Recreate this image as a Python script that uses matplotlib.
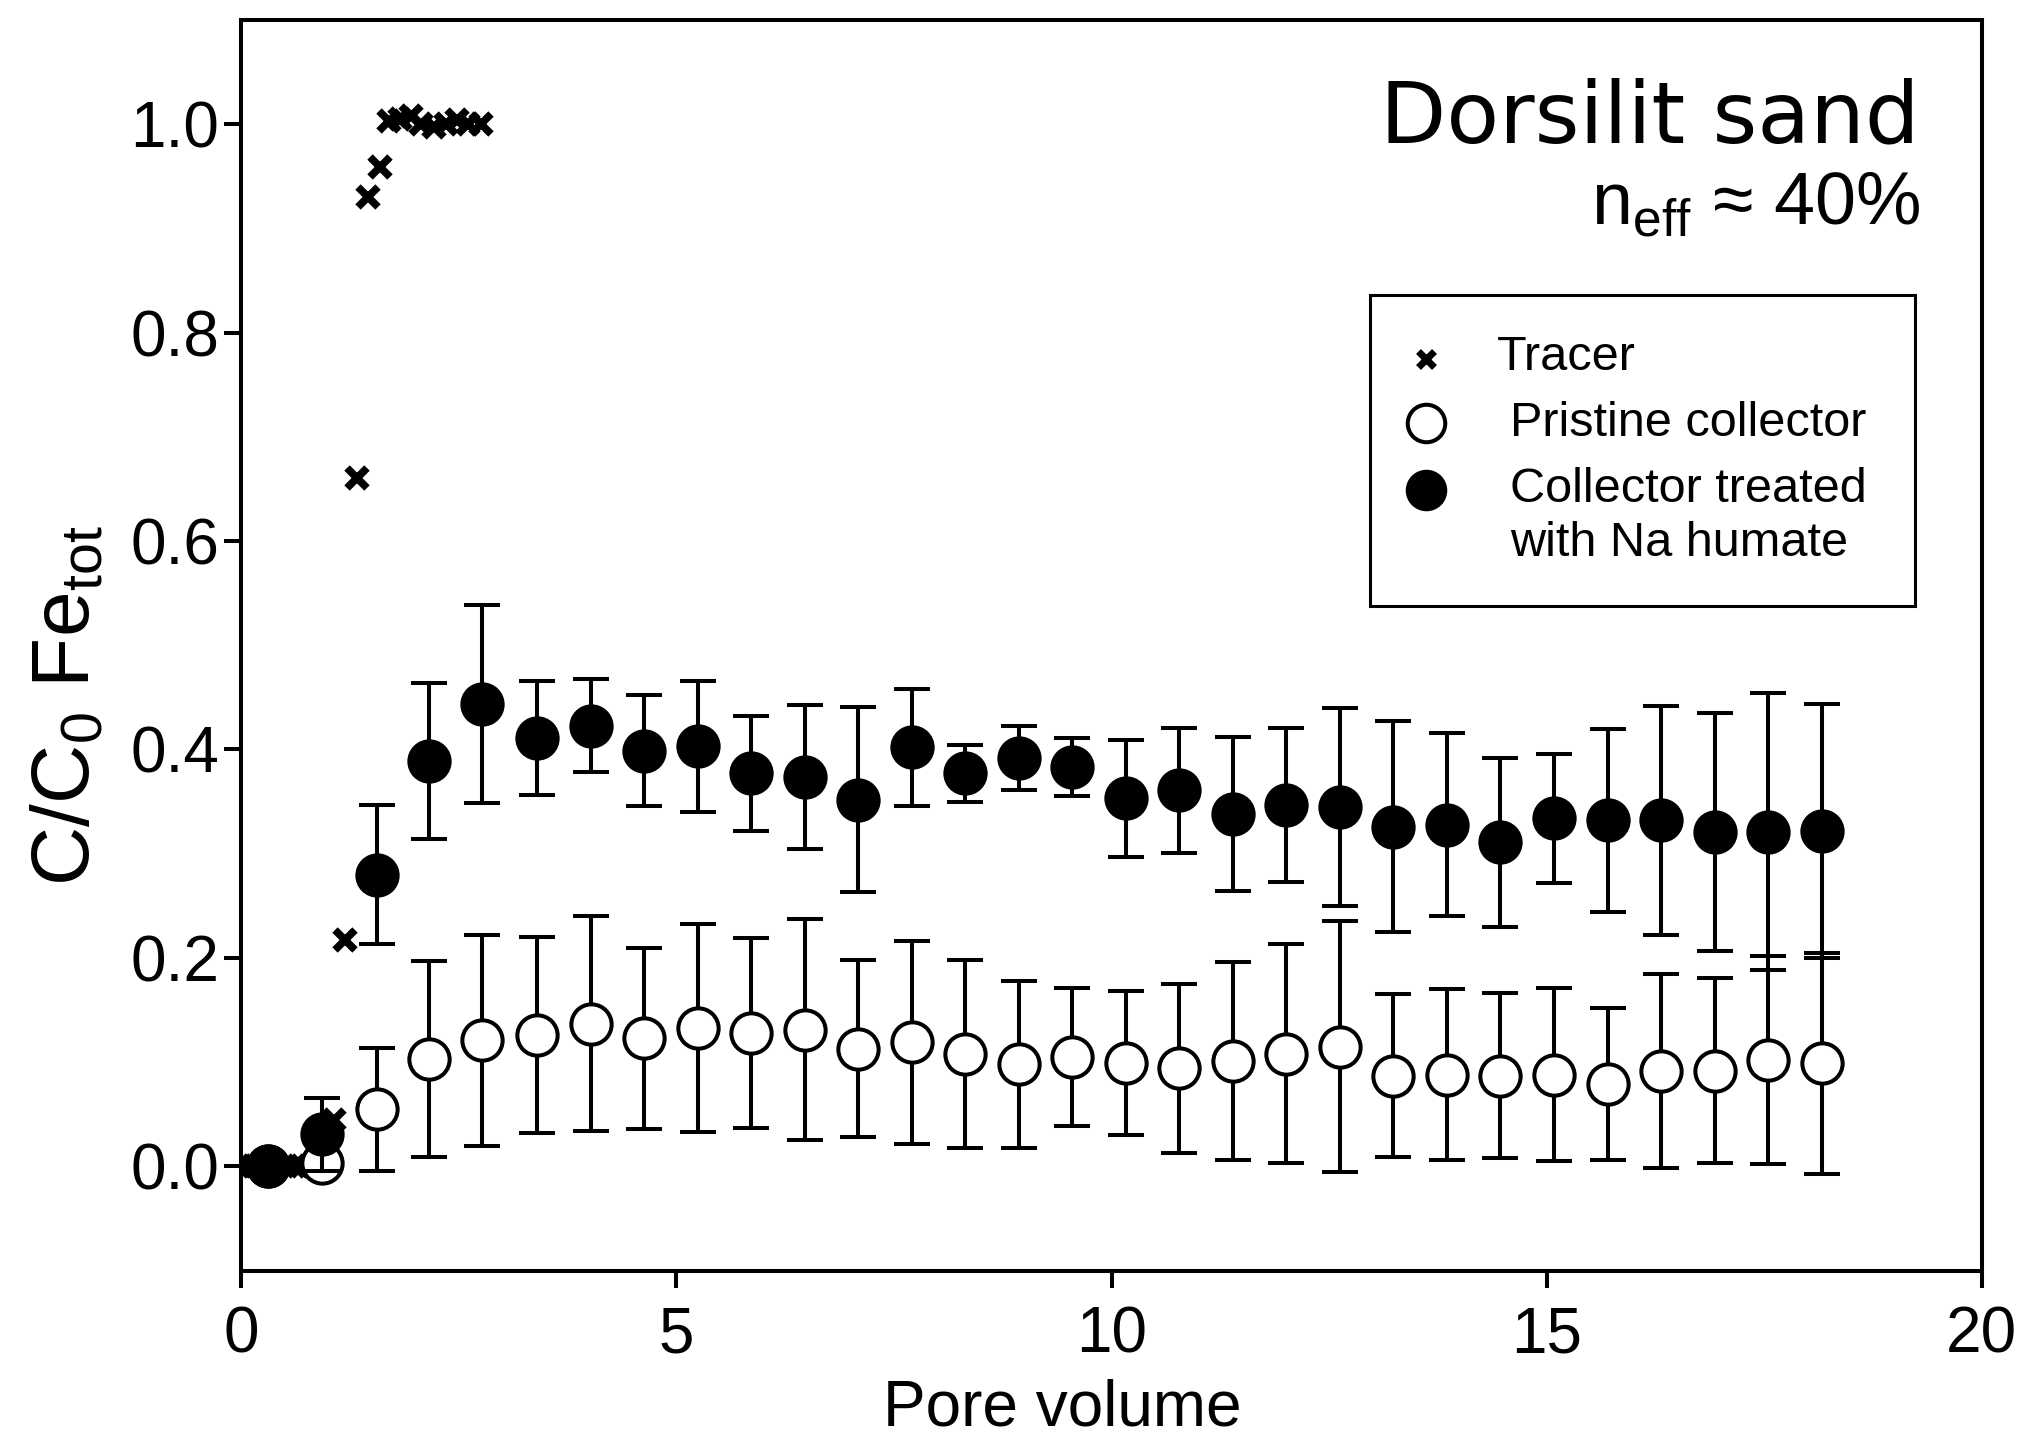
import matplotlib
matplotlib.use("Agg")
import matplotlib.pyplot as plt
from matplotlib.patches import Rectangle

plt.rcParams['font.family'] = ['Liberation Sans', 'DejaVu Sans']
plt.rcParams['mathtext.fontset'] = 'custom'
plt.rcParams['mathtext.rm'] = 'Liberation Sans'

# ---------------- data ----------------
pore_volume = [0.31, 0.93, 1.56, 2.16, 2.77, 3.40, 4.02, 4.63, 5.25, 5.86,
               6.48, 7.09, 7.71, 8.32, 8.94, 9.55, 10.17, 10.78, 11.40, 12.01,
               12.63, 13.24, 13.86, 14.47, 15.09, 15.70, 16.31, 16.93, 17.54, 18.16]

treated_mean = [0.000, 0.031, 0.280, 0.389, 0.444, 0.411, 0.423, 0.399, 0.403, 0.377,
                0.374, 0.352, 0.402, 0.377, 0.392, 0.383, 0.353, 0.361, 0.338, 0.347,
                0.345, 0.326, 0.328, 0.311, 0.334, 0.332, 0.332, 0.321, 0.321, 0.322]
treated_err = [0.000, 0.035, 0.067, 0.075, 0.095, 0.055, 0.045, 0.053, 0.063, 0.055,
               0.069, 0.089, 0.056, 0.027, 0.031, 0.028, 0.056, 0.060, 0.074, 0.074,
               0.095, 0.101, 0.088, 0.081, 0.062, 0.088, 0.110, 0.114, 0.133, 0.122]

pristine_mean = [0.000, 0.003, 0.055, 0.103, 0.121, 0.126, 0.137, 0.123, 0.133, 0.128,
                 0.131, 0.113, 0.119, 0.108, 0.098, 0.105, 0.099, 0.094, 0.101, 0.108,
                 0.115, 0.087, 0.088, 0.087, 0.088, 0.079, 0.092, 0.092, 0.102, 0.099]
pristine_err = [0.000, 0.010, 0.059, 0.094, 0.101, 0.094, 0.103, 0.087, 0.100, 0.091,
                0.106, 0.085, 0.097, 0.090, 0.080, 0.066, 0.069, 0.081, 0.095, 0.105,
                0.120, 0.078, 0.082, 0.079, 0.083, 0.073, 0.093, 0.089, 0.100, 0.106]

tracer_pv = [0.00, 0.13, 0.26, 0.39, 0.52, 0.65, 0.78, 0.92, 1.06, 1.19, 1.33,
             1.46, 1.59, 1.70, 1.82, 1.95, 2.07, 2.21, 2.35, 2.48, 2.60, 2.76]
tracer_c = [0.000, 0.000, 0.000, 0.000, 0.000, 0.000, 0.000, 0.005, 0.045, 0.217, 0.660,
            0.930, 0.959, 1.003, 1.005, 1.008, 1.000, 0.997, 1.000, 1.004, 1.000, 1.000]

legend_labels = ["Tracer", "Pristine collector", "Collector treated\nwith Na humate"]
x_ticks = [0, 5, 10, 15, 20]
y_ticks = [0.0, 0.2, 0.4, 0.6, 0.8, 1.0]

# ---------------- figure ----------------
W, H = 2023, 1437
fig = plt.figure(figsize=(W / 100, H / 100), dpi=100)
ax = fig.add_axes([241.3 / W, 1 - 1270.7 / H, 1740.4 / W, 1250.9 / H])

LW = 2.9
ax.plot(tracer_pv, tracer_c, linestyle='none', marker='x', ms=15, mew=5.5,
        color='black', zorder=2)

ax.errorbar(pore_volume, pristine_mean, yerr=pristine_err, fmt='o', ms=29,
            mfc='white', mec='black', mew=LW, ecolor='black', elinewidth=LW,
            capsize=13.3, capthick=LW, zorder=3)
ax.errorbar(pore_volume, treated_mean, yerr=treated_err, fmt='o', ms=29,
            mfc='black', mec='black', mew=LW, ecolor='black', elinewidth=LW,
            capsize=13.3, capthick=LW, zorder=4)

ax.set_xlim(0, 20)
ax.set_ylim(-0.1, 1.1)
ax.set_xticks(x_ticks)
ax.set_xticklabels([str(t) for t in x_ticks])
ax.set_yticks(y_ticks)
ax.set_yticklabels([f"{t:.1f}" for t in y_ticks])

for sp in ax.spines.values():
    sp.set_linewidth(LW)
ax.tick_params(axis='both', direction='out', length=12, width=LW,
               labelsize=46, colors='black')
ax.tick_params(axis='y', pad=4)
ax.tick_params(axis='x', pad=13)

# axis labels
fig.text(68 / W, 1 - 706 / H, r'C/C$_{\mathregular{0}}$ Fe$_{\mathregular{tot}}$',
         rotation=90, ha='center', va='center', fontsize=59)
fig.text(1062 / W, 1 - 1426 / H, 'Pore volume', ha='center', va='baseline',
         fontsize=46)

# annotations
fig.text(1920 / W, 1 - 142 / H, 'Dorsilit sand', ha='right', va='baseline',
         fontsize=62, family='DejaVu Sans')
fig.text(1920 / W, 1 - 224 / H, r'n$_{\mathregular{eff}}$ ≈ 40%', ha='right',
         va='baseline', fontsize=53)

# legend (manual)
def axc(px, py):
    return (px - 241.3) / 1740.4, (1270.7 - py) / 1250.9

x0, y0 = axc(1370, 606)
x1, y1 = axc(1915, 295)
ax.add_patch(Rectangle((x0, y0), x1 - x0, y1 - y0, transform=ax.transAxes,
                       fill=False, edgecolor='black', linewidth=2.2, zorder=6,
                       clip_on=False))
mx, my = axc(1426, 359)
ax.plot([mx], [my], transform=ax.transAxes, linestyle='none', marker='x', ms=11,
        mew=5, color='black', zorder=7, clip_on=False)
mx, my = axc(1426, 423)
ax.plot([mx], [my], transform=ax.transAxes, linestyle='none', marker='o', ms=27,
        mfc='white', mec='black', mew=LW, zorder=7, clip_on=False)
mx, my = axc(1426, 490)
ax.plot([mx], [my], transform=ax.transAxes, linestyle='none', marker='o', ms=27,
        mfc='black', mec='black', mew=LW, zorder=7, clip_on=False)

LEG_FS = 35
tx, ty = axc(1497, 357)
ax.text(tx, ty, legend_labels[0], transform=ax.transAxes, ha='left', va='center',
        fontsize=LEG_FS, zorder=7)
tx, ty = axc(1510, 424)
ax.text(tx, ty, legend_labels[1], transform=ax.transAxes, ha='left', va='center',
        fontsize=LEG_FS, zorder=7)
line1, line2 = legend_labels[2].split("\n")
tx, ty = axc(1510, 489)
ax.text(tx, ty, line1, transform=ax.transAxes, ha='left', va='center',
        fontsize=LEG_FS, zorder=7)
tx, ty = axc(1510, 543)
ax.text(tx, ty, line2, transform=ax.transAxes, ha='left', va='center',
        fontsize=LEG_FS, zorder=7)

fig.savefig('out.png', dpi=100, facecolor='white')
